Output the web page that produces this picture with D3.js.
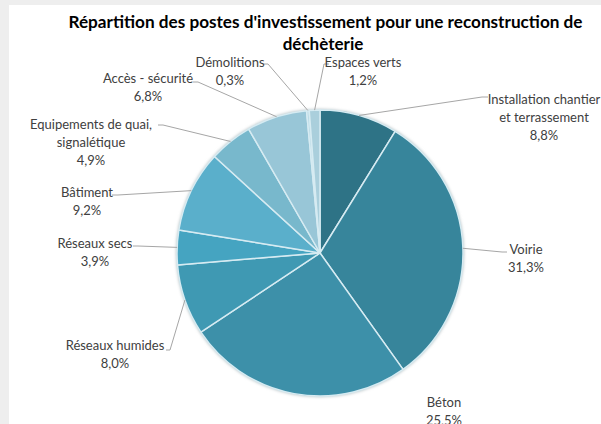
<!DOCTYPE html>
<html><head><meta charset="utf-8">
<script src="https://cdn.jsdelivr.net/npm/d3@7"></script>
<style>body{margin:0;background:#eeeeee;}svg{display:block;}</style>
</head><body>
<svg id="c" width="601" height="424"></svg>
<script>
// ---- data ----
const categories = ["Installation chantier et terrassement","Voirie","Béton","Réseaux humides","Réseaux secs","Bâtiment","Equipements de quai, signalétique","Accès - sécurité","Démolitions","Espaces verts"];
const values = [8.8, 31.3, 25.5, 8.0, 3.9, 9.2, 4.9, 6.8, 0.3, 1.2];
const valueLabels = ["8,8%","31,3%","25,5%","8,0%","3,9%","9,2%","4,9%","6,8%","0,3%","1,2%"];
const nameLines = [["Installation chantier","et terrassement"],["Voirie"],["Béton"],["Réseaux humides"],["Réseaux secs"],["Bâtiment"],["Equipements de quai,","signalétique"],["Accès - sécurité"],["Démolitions"],["Espaces verts"]];
const colors = ["#2e7386","#37859b","#3d90a9","#3f99b3","#45a4c1","#5aafcb","#78b8cc","#98c6d7","#bcdbe6","#aacfdc"];
const title = ["Répartition des postes d'investissement pour une reconstruction de","déchèterie"];

// ---- layout (label placement) ----
const labelPos = [
  {x:544,y:99,lx:488,ly:97,dx:-6},
  {x:526,y:249,lx:507,ly:252,dx:-5},
  {x:444,y:402,lx:null},
  {x:115,y:345,lx:166,ly:350,dx:4},
  {x:95,y:243,lx:133,ly:246,dx:5},
  {x:87,y:192,lx:112,ly:195,dx:6},
  {x:91,y:124,lx:158,ly:125,dx:5},
  {x:148,y:78,lx:193,ly:82,dx:5},
  {x:230,y:62,lx:263,ly:64,dx:5},
  {x:363,y:62,lx:329,ly:64,dx:-5}
];

const svg = d3.select("#c");
svg.append("rect").attr("x",9).attr("y",5).attr("width",592).attr("height",419).attr("fill","#ffffff");

const cx = 320, cy = 253, R = 143;
const font = "Lato, 'Open Sans', sans-serif";

svg.selectAll("text.title").data(title).join("text")
  .attr("x",(d,i)=> i===0?325.5:323).attr("y",(d,i)=>28+i*22)
  .attr("text-anchor","middle").attr("font-family",font).attr("font-weight","bold")
  .attr("font-size",17).attr("fill","#000")
  .attr("textLength",(d,i)=> i===0?514:null).attr("lengthAdjust","spacingAndGlyphs")
  .text(d=>d);

const defs = svg.append("defs");
const f = defs.append("filter").attr("id","sh").attr("x","-10%").attr("y","-10%").attr("width","120%").attr("height","120%");
f.append("feGaussianBlur").attr("stdDeviation",1.5);

const g = svg.append("g").attr("transform",`translate(${cx},${cy})`);
g.append("circle").attr("r",R+1).attr("fill","#b8c4c8").attr("filter","url(#sh)");

const pie = d3.pie().sort(null).value(d=>d)(values);
const arc = d3.arc().innerRadius(0).outerRadius(R);
g.selectAll("path.slice").data(pie).join("path")
  .attr("d",arc).attr("fill",(d,i)=>colors[i])
  .attr("stroke","#d6ebf2").attr("stroke-width",1.5).attr("stroke-linejoin","round");

// leader lines
const pt = d => { const a=(d.startAngle+d.endAngle)/2; return [cx+R*Math.sin(a), cy-R*Math.cos(a)]; };
pie.forEach((d,i)=>{
  const p = labelPos[i]; if(p.lx===null) return;
  const e = pt(d);
  svg.append("path").attr("d",d3.line()([[p.lx,p.ly],[p.lx+p.dx,p.ly],e]))
    .attr("fill","none").attr("stroke","#a6a6a6").attr("stroke-width",1);
});

// labels
pie.forEach((d,i)=>{
  const p = labelPos[i];
  const lines = nameLines[i].concat([valueLabels[i]]);
  const t = svg.append("text").attr("text-anchor","middle").attr("font-family",font)
    .attr("font-size",13).attr("fill","#404040");
  lines.forEach((l,k)=> t.append("tspan").attr("x",p.x).attr("y",p.y+4.5+k*18).text(l));
});
</script>
</body></html>
